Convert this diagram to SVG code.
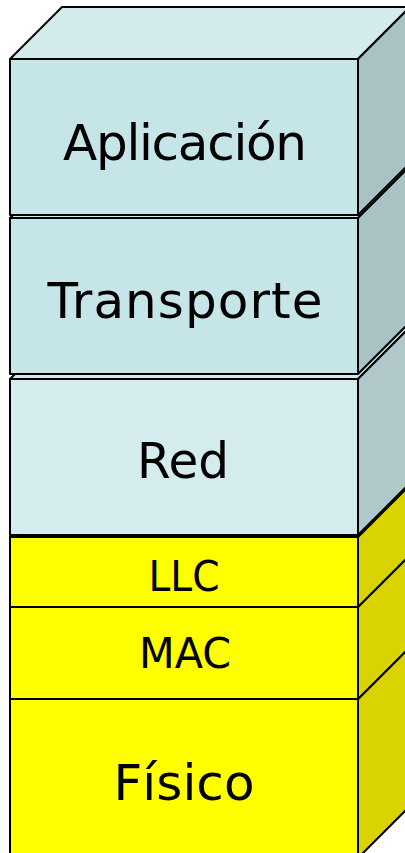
<svg xmlns="http://www.w3.org/2000/svg" width="405" height="853" viewBox="0 0 405 853">
<style>
.e{stroke:#000;stroke-width:2;stroke-linejoin:round}
.t{font-family:"DejaVu Sans","Liberation Sans",sans-serif;fill:#000;text-anchor:middle}
.bf{fill:#C5E5E8}.bt{fill:#D3EBEC}.bs{fill:#A9C3C5}
.rf{fill:#D4ECEE}.rs{fill:#B1C8CA}
.yf{fill:#FFFF00}.ys{fill:#D9D300}
</style>
<rect width="405" height="853" fill="#fff"/>
<g id="fisico">
<polygon class="e yf" points="10,699 62,647 410,647 358,699"/>
<polygon class="e ys" points="358,699 410,647 410,806 358,858"/>
<rect class="e yf" x="10" y="699" width="348" height="160"/>
<text class="t" x="184" y="800" font-size="50" textLength="141">Físico</text>
</g>
<g id="mac">
<polygon class="e yf" points="10,607 62,555 410,555 358,607"/>
<polygon class="e ys" points="358,607 410,555 410,647 358,699"/>
<rect class="e yf" x="10" y="607" width="348" height="92"/>
<text class="t" x="185" y="668" font-size="42" textLength="92" lengthAdjust="spacingAndGlyphs">MAC</text>
</g>
<g id="llc">
<polygon class="e yf" points="10,537 62,485 410,485 358,537"/>
<polygon class="e ys" points="358,537 410,485 410,555 358,607"/>
<rect class="e yf" x="10" y="537" width="348" height="70"/>
<text class="t" x="184" y="591" font-size="42" textLength="71" lengthAdjust="spacingAndGlyphs">LLC</text>
</g>
<g id="red">
<polygon class="e bt" points="10,379 62,327 410,327 358,379"/>
<polygon class="e rs" points="358,379 410,327 410,483 358,535"/>
<rect class="e rf" x="10" y="379" width="348" height="156"/>
<text class="t" x="183" y="478" font-size="50" textLength="92" lengthAdjust="spacingAndGlyphs">Red</text>
</g>
<g id="transporte">
<polygon class="e bt" points="10,218 62,166 410,166 358,218"/>
<polygon class="e bs" points="358,218 410,166 410,322 358,374"/>
<rect class="e bf" x="10" y="218" width="348" height="156"/>
<text class="t" x="185" y="318" font-size="50" textLength="275">Transporte</text>
</g>
<g id="aplicacion">
<polygon class="e bt" points="10,59 62,7 410,7 358,59"/>
<polygon class="e bs" points="358,59 410,7 410,163 358,215"/>
<rect class="e bf" x="10" y="59" width="348" height="156"/>
<text class="t" x="185" y="160" font-size="50" textLength="244">Aplicación</text>
</g>
</svg>
